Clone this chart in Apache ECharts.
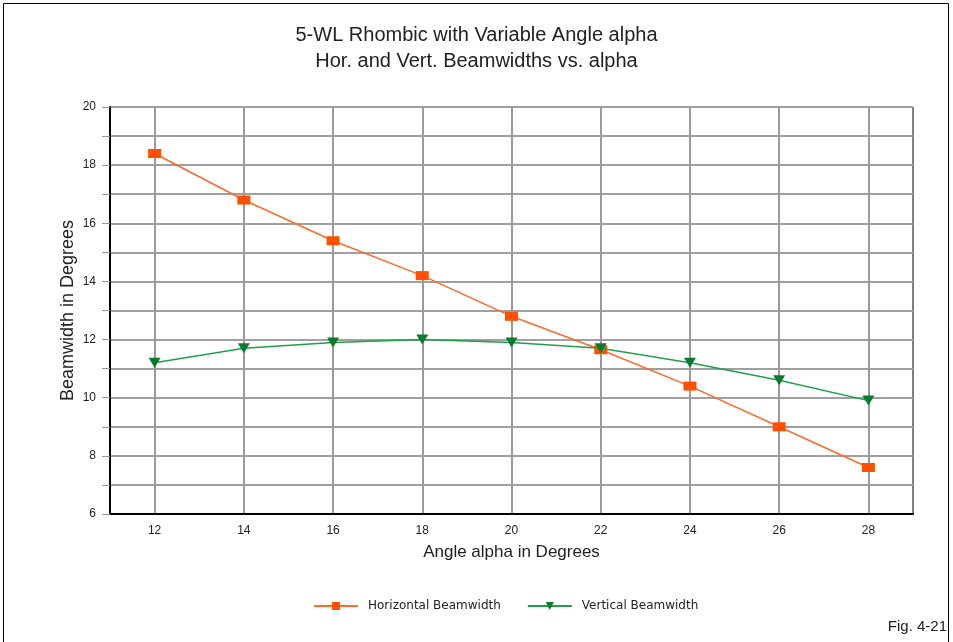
<!DOCTYPE html>
<html>
<head>
<meta charset="utf-8">
<script src="https://cdn.jsdelivr.net/npm/echarts@6/dist/echarts.min.js"></script>
<style>
  html, body { margin: 0; padding: 0; background: #fff; }
  #main { width: 953px; height: 642px; }
</style>
</head>
<body>
<div id="main"></div>
<script>
// -- data --
let alphaDeg = [12, 14, 16, 18, 20, 22, 24, 26, 28];
let horBeam = [18.4, 16.8, 15.4, 14.2, 12.8, 11.65, 10.4, 9.0, 7.6];
let vertBeam = [11.2, 11.7, 11.9, 12.0, 11.9, 11.7, 11.2, 10.6, 9.9];

let font = 'Liberation Sans, Arial, sans-serif';

function pairs(xs, ys) {
  return xs.map(function (x, i) { return [x, ys[i]]; });
}

let option = {
  animation: false,
  backgroundColor: '#fff',
  title: {
    text: '5-WL Rhombic with Variable Angle alpha\nHor. and Vert. Beamwidths vs. alpha',
    left: 'center',
    top: 17,
    textStyle: {fontFamily: font, fontSize: 20, fontWeight: 'normal', color: '#222', lineHeight: 26}
  },
  legend: {
    bottom: 25,
    left: 308,
    itemWidth: 44,
    itemHeight: 10,
    itemGap: 26,
    textStyle: {fontFamily: 'DejaVu Sans, sans-serif', fontSize: 12, color: '#222', padding: [0, 0, 0, 5]},
    data: ['Horizontal Beamwidth', 'Vertical Beamwidth']
  },
  grid: {
    left: 110, right: 40, top: 107, bottom: 128,
    show: true, borderColor: '#000', borderWidth: 1
  },
  xAxis: {
    type: 'value',
    min: 11, max: 29, interval: 1,
    name: 'Angle alpha in Degrees',
    nameLocation: 'middle',
    nameGap: 30,
    nameTextStyle: {fontFamily: font, fontSize: 17, color: '#222'},
    axisLine: {lineStyle: {color: '#000', width: 2}},
    axisTick: {show: false},
    axisLabel: {
      fontFamily: font, fontSize: 12, color: '#222', margin: 11,
      formatter: function (v) { return v % 2 === 0 ? String(v) : ''; }
    },
    splitLine: {show: true, lineStyle: {color: ['rgba(0,0,0,0)', '#9a9a9a'], width: 2}}
  },
  yAxis: {
    type: 'value',
    min: 6, max: 20, interval: 1,
    name: 'Beamwidth in Degrees',
    nameLocation: 'middle',
    nameGap: 33,
    nameMoveOverlap: false,
    nameTextStyle: {fontFamily: font, fontSize: 18, color: '#222'},
    axisLine: {lineStyle: {color: '#000', width: 2}},
    axisTick: {show: true, length: 8, lineStyle: {color: '#999'}},
    axisLabel: {
      fontFamily: font, fontSize: 12, color: '#222', margin: 14,
      formatter: function (v) { return v % 2 === 0 ? String(v) : ''; }
    },
    splitLine: {show: true, lineStyle: {color: '#a0a0a0', width: 2}}
  },
  series: [
    {
      name: 'Horizontal Beamwidth',
      type: 'line',
      data: pairs(alphaDeg, horBeam),
      symbol: 'rect',
      symbolSize: [13, 9],
      lineStyle: {color: '#ff6a2a', width: 1.5},
      itemStyle: {color: '#ff5000'},
      z: 3
    },
    {
      name: 'Vertical Beamwidth',
      type: 'line',
      data: pairs(alphaDeg, vertBeam),
      symbol: 'triangle',
      symbolRotate: 180,
      symbolSize: [12, 10],
      lineStyle: {color: '#1ea04a', width: 1.5},
      itemStyle: {color: '#0a7a2e'},
      z: 4
    }
  ],
  graphic: [
    {
      type: 'rect',
      shape: {x: 3.5, y: 3.5, width: 945, height: 645},
      style: {fill: 'none', stroke: '#000', lineWidth: 1},
      silent: true
    },
    {
      type: 'text',
      right: 6,
      bottom: 8,
      style: {text: 'Fig. 4-21', font: '15px ' + font, fill: '#222'}
    }
  ]
};

let myChart = echarts.init(document.getElementById('main'));
myChart.setOption(option);
</script>
</body>
</html>
